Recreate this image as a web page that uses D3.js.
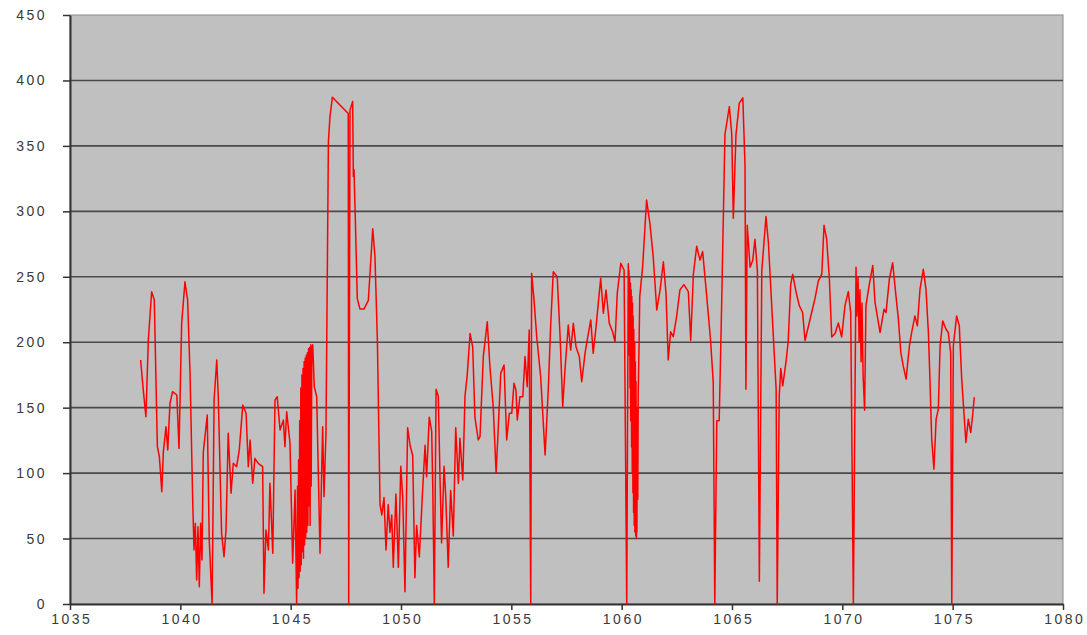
<!DOCTYPE html>
<html>
<head>
<meta charset="utf-8">
<script src="https://cdn.jsdelivr.net/npm/d3@7"></script>
<style>
body { margin: 0; background: #fff; }
svg { display: block; }
.axis text { font-family: "Liberation Sans", Arial, sans-serif; font-size: 14px; fill: #3a3a3a; letter-spacing: 2.5px; }
</style>
</head>
<body>
<svg width="1087" height="635"></svg>
<script>
// readings along the trace (x position, value)
const xs = [
  1038.20,1038.32,1038.44,1038.55,1038.70,1038.82,1038.96,1039.05,1039.16,1039.23,
  1039.35,1039.43,1039.53,1039.65,1039.84,1039.94,1040.06,1040.21,1040.33,1040.44,
  1040.56,1040.62,1040.68,1040.74,1040.80,1040.86,1040.92,1040.98,1041.04,1041.22,
  1041.31,1041.44,1041.53,1041.65,1041.72,1041.87,1041.98,1042.07,1042.17,1042.30,
  1042.40,1042.55,1042.67,1042.83,1042.98,1043.08,1043.16,1043.28,1043.38,1043.53,
  1043.73,1043.79,1043.88,1043.99,1044.06,1044.19,1044.29,1044.39,1044.52,1044.67,
  1044.74,1044.82,1044.97,1045.09,1045.20,
  1045.27,1045.31,1045.33,1045.36,1045.38,1045.41,1045.43,1045.46,1045.48,1045.51,
  1045.53,1045.56,1045.58,1045.61,1045.63,1045.66,1045.68,1045.71,1045.73,1045.76,
  1045.78,1045.81,1045.83,1045.86,1045.88,1045.91,1045.93,1045.96,1046.00,1046.07,
  1046.18,1046.33,1046.41,1046.45,1046.51,1046.60,
  1046.71,1046.78,1046.89,1047.61,1047.63,1047.69,1047.81,1047.84,1047.87,1047.93,
  1048.02,1048.14,1048.32,1048.52,1048.72,1048.82,1048.93,1049.05,1049.13,1049.23,
  1049.32,1049.42,1049.50,1049.58,1049.65,1049.77,1049.88,1049.99,1050.08,1050.18,
  1050.30,1050.41,1050.53,1050.63,1050.71,1050.83,1050.98,1051.09,1051.16,1051.28,
  1051.39,1051.44,1051.51,1051.59,1051.69,1051.77,1051.84,1051.95,1052.03,1052.14,
  1052.25,1052.37,1052.48,1052.60,1052.67,1052.80,1052.90,1053.00,1053.13,1053.25,
  1053.35,1053.50,
  1053.58,1053.73,1053.91,1054.03,1054.18,1054.31,1054.41,1054.52,1054.67,1054.79,
  1054.91,1055.02,1055.12,1055.21,1055.27,1055.39,1055.52,1055.62,1055.72,1055.81,
  1055.88,1055.92,1056.03,1056.15,1056.33,1056.53,1056.68,1056.78,1056.90,1057.08,
  1057.21,1057.33,1057.43,1057.58,1057.69,1057.81,1057.93,1058.08,1058.19,1058.34,
  1058.44,1058.60,1058.71,1058.84,1058.94,1059.05,1059.17,1059.29,1059.44,1059.59,
  1059.70,1059.80,1059.96,1060.11,1060.23,
  1060.30,1060.32,1060.33,1060.35,1060.36,1060.38,1060.40,1060.41,1060.43,1060.45,
  1060.46,1060.48,1060.49,1060.51,1060.52,1060.54,1060.55,1060.57,1060.59,1060.60,
  1060.62,1060.64,1060.65,1060.67,1060.68,1060.69,1060.71,1060.73,1060.75,1060.79,
  1060.82,
  1060.95,1061.13,1061.28,1061.43,1061.59,1061.74,1061.89,1062.01,1062.11,1062.22,
  1062.34,1062.49,
  1062.64,1062.82,1063.02,1063.13,1063.25,1063.40,1063.55,1063.67,1063.85,1064.03,
  1064.15,1064.22,1064.31,1064.42,1064.53,1064.68,1064.88,1064.99,1065.06,1065.18,
  1065.33,1065.49,1065.59,1065.63,1065.69,1065.82,1065.94,1066.04,1066.15,1066.24,
  1066.35,1066.54,1066.65,1066.75,1066.90,1067.00,1067.05,1067.14,1067.21,1067.30,
  1067.45,1067.55,1067.66,1067.75,1067.90,1068.05,1068.20,1068.31,1068.46,1068.61,
  1068.76,1068.91,1069.07,1069.17,1069.29,1069.41,1069.52,1069.67,1069.82,1069.97,
  1070.12,1070.27,1070.38,1070.50,1070.62,1070.66,1070.71,1070.76,1070.80,1070.85,
  1070.89,1070.94,1071.01,1071.07,1071.22,1071.38,1071.48,
  1071.71,1071.89,1071.98,1072.13,1072.28,1072.43,1072.54,1072.65,1072.76,1072.89,
  1073.04,1073.14,1073.29,1073.40,1073.52,1073.67,1073.79,1073.90,1073.97,1074.05,
  1074.15,1074.25,1074.35,1074.43,1074.55,1074.70,1074.80,1074.91,1074.96,1075.03,
  1075.18,1075.30,1075.41,1075.51,1075.60,1075.71,1075.82,1075.91,1075.98
];
const ys = [
  186.4,163.5,143.1,201.7,238.6,232.2,120.2,112.5,85.8,115.9,
  135.5,117.6,153.3,162.2,159.7,118.9,214.4,246.2,232.2,176.2,
  79.4,41.3,61.6,18.3,59.1,13.2,61.6,33.6,115.9,144.4,
  48.9,0,155.8,186.4,158.4,54,36.1,56.5,130.4,84.6,
  107.5,104.9,117.6,152,145.7,104.9,125.3,92.2,111.3,107.5,
  104.9,8.2,56.5,41.3,92.2,38.7,155.8,158.4,132.9,140.6,
  120.2,146.9,122.8,31.1,87.1,
  0,90,12,110,20,140,25,165,30,175,
  40,180,35,185,45,188,50,190,55,192,
  60,195,75,196,60,198,90,195,198,166,
  158.4,38.7,105,135.5,82,130,
  353.3,372,387.2,374.7,0,377.3,384,326.7,332,294.7,
  233.3,225.3,225.3,232,286.7,265.3,201.3,76,68,81.3,
  41.3,76,54.7,68,28,84,28,105.3,81.3,9.3,
  134.7,121.3,113.3,20,60,36,86.7,121.3,97.3,142.7,
  132,89.3,0,164,158.7,94.7,46.7,105.3,81.3,28,
  86.7,52,134.7,92,126.7,94.7,158.7,174.7,206.7,196,
  142.7,125.3,
  127.8,189,215.7,181.3,150.7,100,135.5,176.2,182.6,125.3,
  145.7,145.7,168.6,163.5,140.6,158.4,158.4,189,166,209.3,
  0,252.6,232.2,204.2,173.6,113.8,166,211.8,253.9,250,
  204.2,150.7,178.8,213.1,194,214.4,196.6,189,169.8,191.5,
  201.7,217,191.5,211.8,229.7,248.8,222.1,239.9,214.4,208,
  200.4,237.3,260.3,255.2,0,
  260,215,255,190,250,165,245,140,240,120,
  235,100,230,85,220,70,210,60,200,55,
  185,52,170,50,150,55,140,80,160,200,
  235,
  257.7,308.6,290.8,265.3,224.6,239.9,261.5,237.3,186.4,208,
  204.2,219.5,
  240,244,238.7,201.3,252,273.3,262.7,269.3,236,201.3,
  169.3,0,140,140,228,358.7,380,358.7,294.7,358.7,
  382.7,386.7,334.7,164,289.3,257.3,262.7,278.7,254.7,17.3,
  254.7,296,276,244,196,164,0,158.7,180,166.7,
  185.3,201.3,244,252,238.7,228,222.7,201.3,212,222.7,
  233.3,246.7,252,289.3,278.7,249.3,204,206.7,214.7,204,
  228,238.7,222.7,0,257.3,220,250,200,240,185,
  230,175,148,228,244,258.7,230.7,
  207.4,225.2,222.6,248.1,260.8,235.4,217.6,192.1,181.9,171.8,
  197.2,207.4,220.1,212.5,240.5,255.7,240.5,207.4,171.8,126,
  103,141.2,148.9,197.2,216.3,209.9,207.4,192.1,0,197.2,
  220.1,212.5,171.8,146.3,123.4,141.2,131,145,158
];
const xTicks = [1035, 1040, 1045, 1050, 1055, 1060, 1065, 1070, 1075, 1080];
const yTicks = [0, 50, 100, 150, 200, 250, 300, 350, 400, 450];

const data = xs.map((x, i) => ({ x: x, y: ys[i] }));

const plotLeft = 70, plotRight = 1063, plotTop = 15, plotBottom = 604;

const svg = d3.select('svg');

const xScale = d3.scaleLinear().domain([1035, 1080]).range([plotLeft, plotRight]);
const yScale = d3.scaleLinear().domain([0, 450]).range([plotBottom, plotTop]);

// plot background
svg.append('rect')
  .attr('x', plotLeft).attr('y', plotTop)
  .attr('width', plotRight - plotLeft).attr('height', plotBottom - plotTop)
  .attr('fill', '#c0c0c0')
  .attr('stroke', '#8a8a8a')
  .attr('stroke-width', 1);

// horizontal grid
svg.append('g')
  .selectAll('line')
  .data(yTicks.filter(d => d > 0 && d < 450))
  .enter()
  .append('line')
  .attr('x1', plotLeft).attr('x2', plotRight)
  .attr('y1', d => yScale(d)).attr('y2', d => yScale(d))
  .attr('stroke', '#4a4a4a')
  .attr('stroke-width', 1.6);

const yAxis = svg.append('g')
  .attr('class', 'axis')
  .attr('transform', `translate(${plotLeft}, 0)`)
  .call(d3.axisLeft(yScale).tickValues(yTicks).tickSize(7).tickSizeOuter(0).tickPadding(16));

const xAxis = svg.append('g')
  .attr('class', 'axis')
  .attr('transform', `translate(0, ${plotBottom})`)
  .call(d3.axisBottom(xScale).tickValues(xTicks).tickFormat(d3.format('d')).tickSize(6).tickSizeOuter(0).tickPadding(4));

svg.selectAll('.axis .domain').attr('stroke', '#333').attr('stroke-width', 2);
svg.selectAll('.axis .tick line').attr('stroke', '#333').attr('stroke-width', 1.5);
xAxis.selectAll('text').attr('dx', '1.25px');

const line = d3.line()
  .x(d => xScale(d.x))
  .y(d => yScale(d.y));

svg.append('path')
  .datum(data)
  .attr('d', line)
  .attr('fill', 'none')
  .attr('stroke', '#ff0000')
  .attr('stroke-width', 1.5)
  .attr('stroke-linejoin', 'round');
</script>
</body>
</html>
